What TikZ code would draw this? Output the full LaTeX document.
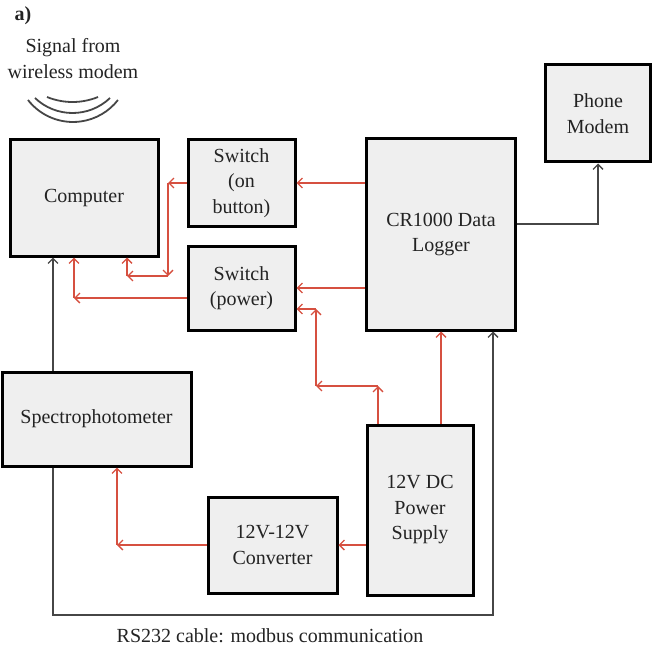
\documentclass[tikz,border=0pt]{standalone}
\usepackage{fontspec}
\setmainfont{Liberation Serif}
\usetikzlibrary{arrows.meta}
\definecolor{pw}{RGB}{214,80,64}
\definecolor{cb}{RGB}{70,70,70}
\definecolor{bx}{RGB}{239,239,239}
\definecolor{tx}{RGB}{35,35,35}
\begin{document}
\begin{tikzpicture}[x=1pt,y=1pt,
  box/.style={draw=black, line width=3pt, fill=bx, align=center, inner sep=2pt, text=tx,
    font=\fontsize{20}{25.5}\selectfont},
  tip/.style={-{Straight Barb[length=5pt,width=10pt,line width=1.3pt]}},
  pline/.style={draw=pw, line width=1.6pt, tip},
  cline/.style={draw=cb, line width=1.4pt},
  wave/.style={draw=cb, line width=1.8pt},
  lbl/.style={align=center, text=tx, font=\fontsize{20}{25.5}\selectfont}]
\useasboundingbox (0,0) rectangle (653,-655);

% boxes
\node[box, minimum width=148, minimum height=116] (comp) at (84,-198) {Computer};
\node[box, minimum width=107, minimum height=86] (sw1) at (241.5,-183) {Switch\\(on\\button)};
\node[box, minimum width=107, minimum height=84] (sw2) at (241.5,-288) {Switch\\(power)};
\node[box, minimum width=149, minimum height=191] (cr) at (441,-234.5) {CR1000 Data\\Logger};
\node[box, minimum width=105, minimum height=97] (ph) at (598,-113.5) {Phone\\Modem};
\node[box, minimum width=189, minimum height=94] (spec) at (96.5,-419) {Spectrophotometer};
\node[box, minimum width=129, minimum height=96] (conv) at (272.5,-545) {12V-12V\\Converter};
\node[box, minimum width=106, minimum height=170] (ps) at (420,-510) {12V DC\\Power\\Supply};

% labels
\node[lbl, font=\fontsize{20}{25.5}\selectfont\bfseries] (a) at (23,-16) {a)};
\node[lbl] (sig) at (73,-58.5) {Signal from\\wireless modem};
\node[lbl] (rs) at (270,-636) {RS232 cable: modbus communication};

% wireless arcs
\draw[wave] (47,-97) arc[start angle=247.8, end angle=292.2, radius=67.5];
\draw[wave] (35,-98) arc[start angle=226.4, end angle=313.6, radius=54.4];
\draw[wave] (28,-100) arc[start angle=217.9, end angle=322.1, radius=57];

% coordinates
\coordinate (j1) at (168,-183);
\coordinate (j2) at (168,-276);
\coordinate (j3) at (127,-276);
\coordinate (j4) at (74,-298);
\coordinate (k1) at (378,-386);
\coordinate (k2) at (316,-386);
\coordinate (k3) at (316,-309);
\coordinate (m1) at (117,-545);
\coordinate (g0) at (53,-400);
\coordinate (g1) at (53,-615);
\coordinate (g2) at (493,-615);
\coordinate (p1) at (598,-224);

% red power lines
\draw[pline] (cr.west |- sw1.east) -- (sw1.east);
\draw[pline] (cr.west |- sw2.east) -- (sw2.east);
\draw[pline] (sw1.west) -- (j1);
\draw[pline] (j1) -- (j2);
\draw[pline] (j2) -- (j3);
\draw[pline] (j3) -- (j3 |- comp.south);
\draw[pline] (sw2.west |- j4) -- (j4);
\draw[pline] (j4) -- (j4 |- comp.south);
\draw[pline] (k1 |- ps.north) -- (k1);
\draw[pline] (k1) -- (k2);
\draw[pline] (k2) -- (k3);
\draw[pline] (k3) -- (k3 -| sw2.east);
\draw[pline] (ps.north -| cr.south) -- (cr.south);
\draw[pline] (ps.west |- conv.east) -- (conv.east);
\draw[pline] (conv.west) -- (m1);
\draw[pline] (m1) -- (m1 |- spec.south);

% grey communication lines
\draw[cline, tip] (g0 |- spec.north) -- (g0 |- comp.south);
\draw[cline, tip] (g1 |- spec.south) -- (g1) -- (g2) -- (g2 |- cr.south);
\draw[cline, tip] (cr.east |- p1) -- (p1) -- (ph.south);
\end{tikzpicture}
\end{document}
